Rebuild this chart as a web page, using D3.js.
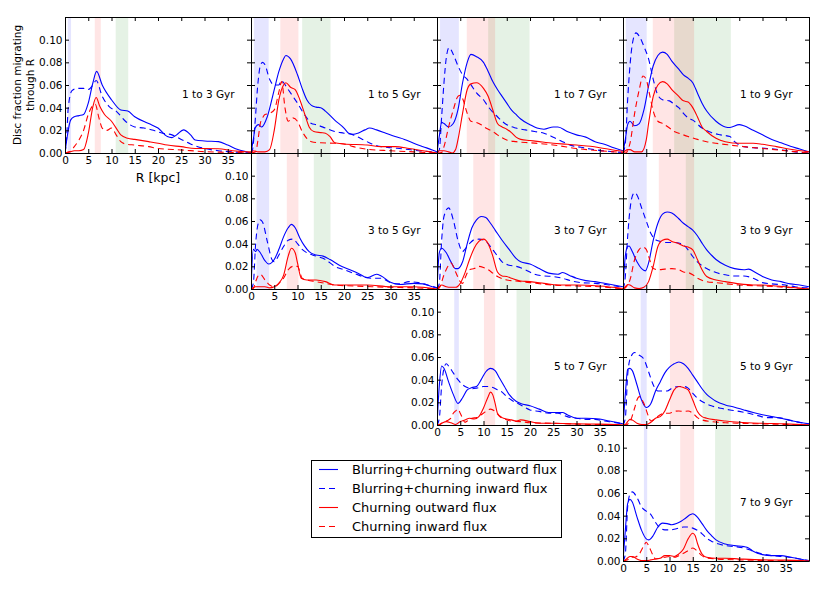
<!DOCTYPE html>
<html><head><meta charset="utf-8">
<script src="https://cdn.jsdelivr.net/npm/d3@7"></script>
<style>body{margin:0;background:#fff;} svg{display:block;font-family:"DejaVu Sans",sans-serif;}</style>
</head><body><svg id="chart" width="817" height="591"></svg>
<script>
// ---------------- DATA: [R (kpc), fraction] ----------------
const bcOut_1_3 = [[0,0],[0.5,0.015],[1.2,0.029],[2,0.032],[3,0.033],[4,0.034],[5,0.044],[6,0.062],[6.8,0.072],[8,0.06],[10,0.047],[12,0.038],[13.5,0.037],[15,0.032],[18,0.026],[20,0.022],[22,0.0145],[23,0.0136],[24,0.016],[25.5,0.0204],[27,0.016],[28,0.0115],[30,0.0106],[33,0.010],[35,0.007],[37,0.0033],[39,0.001],[40,0]];
const bcIn_1_3 = [[0,0],[0.3,0.01],[0.7,0.04],[1.5,0.055],[2.5,0.057],[4,0.057],[5,0.056],[6,0.06],[6.7,0.064],[8,0.05],[9.5,0.041],[11,0.037],[13,0.028],[15,0.023],[17,0.022],[19,0.02],[21,0.0175],[23,0.016],[25,0.012],[27,0.008],[30,0.004],[33,0.002],[36,0.001],[40,0]];
const cOut_1_3 = [[0,0],[1,0.001],[2,0.002],[3,0.002],[4,0.003],[5,0.017],[6,0.041],[6.7,0.049],[7.5,0.041],[8.5,0.034],[10,0.028],[11,0.022],[12,0.016],[13.5,0.013],[15,0.012],[18,0.01],[20,0.0086],[22,0.007],[25,0.0056],[28,0.004],[30,0.004],[33,0.0038],[36,0.002],[40,0.001]];
const cIn_1_3 = [[0,0],[1,0.001],[2,0.0056],[3,0.0115],[4,0.02],[5,0.034],[6,0.042],[6.5,0.043],[7.3,0.031],[8,0.022],[9,0.02],[10,0.022],[11,0.016],[12,0.01],[13,0.008],[15,0.007],[18,0.0056],[20,0.004],[25,0.0027],[30,0.0012],[35,0.0006],[40,0]];

const bcOut_1_5 = [[0,0],[0.5,0.012],[0.9,0.022],[1.6,0.025],[2.3,0.023],[3.5,0.032],[5,0.056],[6,0.072],[7,0.083],[7.5,0.086],[8.5,0.083],[10,0.069],[11,0.057],[12,0.047],[13,0.042],[14,0.0405],[15,0.04],[16,0.037],[18,0.029],[20,0.022],[21,0.0175],[22,0.0166],[23,0.0175],[24.5,0.0204],[25.5,0.022],[27,0.0204],[29,0.0175],[31,0.0145],[33,0.012],[35,0.0086],[37,0.0056],[39,0.0027],[40,0.001]];
const bcIn_1_5 = [[0,0],[0.3,0.002],[0.8,0.023],[1.5,0.062],[2,0.077],[2.5,0.08],[3,0.078],[4,0.065],[5,0.06],[6,0.06],[6.5,0.064],[7,0.062],[8,0.056],[9,0.05],[10,0.044],[11,0.037],[12,0.031],[13,0.026],[14,0.025],[16,0.022],[18,0.019],[20,0.0175],[22,0.016],[24,0.012],[26,0.008],[28,0.0056],[30,0.0047],[33,0.0035],[36,0.002],[39,0.001],[40,0]];
const cOut_1_5 = [[0,0],[0.5,0.002],[1.5,0.001],[3,0.001],[4,0.003],[5,0.02],[6,0.047],[7,0.06],[7.5,0.062],[8.5,0.058],[9.5,0.056],[10.5,0.047],[11.5,0.035],[12.5,0.023],[13.5,0.019],[15,0.018],[16,0.0175],[17,0.0145],[18,0.009],[20,0.008],[25,0.007],[28,0.0056],[31,0.0056],[34,0.004],[37,0.002],[40,0]];
const cIn_1_5 = [[0,0],[1,0.001],[1.5,0.0115],[2,0.026],[2.5,0.031],[3,0.034],[4,0.035],[5,0.038],[6,0.054],[6.6,0.063],[7.3,0.04],[8,0.028],[9,0.031],[10,0.028],[11,0.019],[12,0.013],[13,0.01],[15,0.009],[18,0.0086],[20,0.008],[22,0.0056],[25,0.0033],[30,0.002],[35,0.001],[40,0]];

const bcOut_1_7 = [[0,0],[0.5,0.015],[1,0.027],[1.5,0.026],[2.5,0.023],[3.5,0.026],[4.5,0.038],[5.5,0.062],[6.5,0.08],[7.3,0.087],[8.5,0.085],[10,0.08],[11,0.072],[12,0.063],[13,0.056],[14,0.05],[15,0.044],[16,0.038],[17,0.034],[18,0.03],[20,0.025],[21.5,0.022],[23,0.021],[25,0.023],[26,0.023],[28,0.019],[30,0.016],[32,0.014],[34,0.01],[36,0.0077],[38,0.0047],[40,0.002]];
const bcIn_1_7 = [[0,0],[0.5,0.003],[1,0.032],[1.5,0.062],[2,0.084],[2.6,0.093],[3.5,0.087],[4.5,0.077],[5.5,0.069],[6.5,0.065],[7.5,0.059],[8.5,0.053],[10,0.047],[11,0.041],[12,0.036],[13,0.032],[14,0.028],[15,0.025],[17,0.022],[19,0.0204],[21,0.019],[23,0.0175],[25,0.014],[27,0.01],[29,0.0065],[31,0.005],[33,0.0035],[36,0.0018],[40,0.0005]];
const cOut_1_7 = [[0,0],[0.5,0.002],[1.5,0.002],[2.5,0.001],[3.3,0],[4,0.003],[4.5,0.0115],[5.5,0.035],[6.5,0.056],[7.3,0.061],[8.5,0.062],[10,0.057],[11,0.05],[12,0.038],[13,0.026],[14,0.023],[15,0.021],[16,0.018],[17,0.014],[18,0.012],[20,0.011],[22,0.01],[25,0.0086],[28,0.0077],[30,0.007],[33,0.006],[36,0.004],[39,0.002],[40,0.0015]];
const cIn_1_7 = [[0,0],[1,0.0005],[1.5,0.0056],[2.5,0.023],[3.5,0.038],[4.5,0.05],[5,0.051],[5.5,0.048],[6.5,0.035],[7.3,0.028],[8.5,0.027],[9.5,0.025],[10.5,0.022],[12,0.019],[13,0.016],[15,0.0115],[17,0.01],[20,0.009],[23,0.008],[26,0.0065],[30,0.004],[35,0.002],[40,0.0005]];

const bcOut_1_9 = [[0,0],[0.5,0.012],[1,0.025],[1.5,0.028],[2.5,0.024],[3.5,0.026],[4.5,0.038],[5.5,0.059],[6.5,0.077],[7.5,0.086],[8.5,0.089],[9.5,0.087],[10.5,0.081],[12,0.074],[13,0.069],[14,0.066],[15,0.062],[16,0.053],[17,0.044],[18,0.037],[20,0.028],[22,0.023],[23,0.0225],[25,0.025],[26,0.024],[28,0.02],[30,0.016],[32,0.012],[34,0.009],[36,0.006],[38,0.0035],[40,0.001]];
const bcIn_1_9 = [[0,0],[0.5,0.0086],[1,0.047],[1.5,0.077],[2,0.096],[2.8,0.106],[3.5,0.103],[4.5,0.094],[5.5,0.083],[6.5,0.065],[7.5,0.051],[8.5,0.047],[10,0.046],[11,0.043],[12,0.04],[13,0.035],[14,0.031],[15,0.029],[17,0.022],[19,0.018],[21,0.016],[23,0.0145],[24,0.01],[26,0.0056],[28,0.0047],[31,0.004],[34,0.0027],[37,0.001],[40,0]];
const cOut_1_9 = [[0,0],[0.5,0.002],[1,0.003],[1.5,0.003],[2.5,0.001],[3.5,0.001],[4,0.001],[5,0.0115],[5.5,0.026],[6.5,0.05],[7.5,0.06],[8.5,0.063],[9.5,0.061],[10.5,0.056],[12,0.05],[13,0.046],[14,0.045],[15,0.04],[16,0.032],[17,0.023],[18,0.019],[20,0.013],[22,0.01],[25,0.0086],[28,0.0086],[30,0.0077],[33,0.0056],[36,0.0033],[40,0.001]];
const cIn_1_9 = [[0,0],[0.5,0],[1.5,0.0086],[2.5,0.035],[3.5,0.056],[4.3,0.068],[5,0.065],[5.5,0.056],[6.5,0.037],[7.5,0.028],[8.5,0.026],[10,0.022],[11,0.019],[12,0.0175],[14,0.0145],[16,0.012],[18,0.01],[20,0.0086],[23,0.007],[26,0.0056],[30,0.004],[35,0.002],[40,0]];

const bcOut_3_5 = [[0,0],[0.5,0.035],[1,0.033],[1.3,0.035],[2,0.032],[3,0.025],[3.8,0.022],[5,0.026],[6,0.035],[7,0.046],[8,0.054],[8.7,0.057],[9.5,0.054],[10.5,0.045],[11.5,0.038],[12.5,0.033],[14,0.03],[15.5,0.029],[17,0.026],[19,0.021],[21,0.0175],[23,0.014],[25,0.01],[27,0.013],[28,0.0115],[30,0.006],[32,0.004],[35,0.005],[37,0.0045],[39,0.002],[40,0.001]];
const bcIn_3_5 = [[0,0],[0.5,0.005],[1,0.04],[1.5,0.057],[2,0.061],[2.5,0.059],[3.5,0.042],[4.5,0.026],[5,0.024],[6,0.03],[7,0.0375],[8,0.043],[9,0.044],[10,0.04],[11,0.035],[12,0.032],[14,0.029],[16,0.026],[18,0.02],[20,0.017],[22,0.014],[24,0.011],[26,0.0095],[28,0.0095],[30,0.0056],[32,0.0045],[34,0.0065],[36,0.0056],[38,0.0035],[40,0.001]];
const cOut_3_5 = [[0,0],[1,0.002],[2,0.002],[3,0.002],[4,0.001],[5,0.002],[6,0.005],[7,0.012],[8,0.029],[8.7,0.036],[9.5,0.032],[10,0.023],[10.8,0.0095],[12,0.008],[14,0.008],[16,0.0065],[18,0.0035],[20,0.0035],[25,0.0035],[30,0.002],[35,0.002],[40,0]];
const cIn_3_5 = [[0,0],[0.5,0.0005],[1,0.0065],[1.5,0.0115],[2,0.013],[3,0.008],[4,0.0035],[5,0.002],[6,0.005],[7,0.0095],[8,0.017],[9,0.02],[10,0.02],[11,0.0095],[12,0.008],[14,0.0065],[16,0.005],[18,0.0035],[22,0.0027],[26,0.002],[30,0.0015],[35,0.001],[40,0]];

const bcOut_3_7 = [[0,0],[0.5,0.032],[1,0.036],[2,0.032],[3,0.024],[4,0.018],[4.5,0.018],[5.5,0.024],[6.5,0.04],[7.5,0.054],[8.5,0.061],[9.5,0.064],[10.5,0.063],[11.5,0.058],[12.5,0.052],[14,0.043],[15.5,0.035],[17,0.027],[18,0.024],[20,0.022],[22,0.018],[24,0.014],[26,0.013],[27,0.0145],[28.5,0.012],[30,0.0095],[32,0.0074],[34,0.0065],[36,0.005],[38,0.0035],[40,0.002]];
const bcIn_3_7 = [[0,0],[0.5,0.005],[1,0.043],[1.5,0.064],[2.5,0.0716],[3.5,0.061],[4.5,0.043],[5.5,0.033],[6,0.035],[7,0.04],[8,0.0435],[9,0.044],[10.5,0.042],[11.5,0.0375],[12.5,0.032],[14,0.024],[15.5,0.021],[17,0.02],[19,0.017],[21,0.013],[23,0.0115],[25,0.011],[27,0.0095],[29,0.007],[31,0.0056],[34,0.005],[37,0.0035],[40,0.0015]];
const cOut_3_7 = [[0,0],[0.5,0.002],[1,0.0035],[2,0.002],[3,0.0015],[4,0.0015],[5,0.005],[6,0.014],[7,0.026],[8,0.036],[9,0.042],[10,0.044],[11,0.04],[12,0.029],[13,0.015],[14,0.0115],[15,0.011],[16,0.0095],[18,0.007],[20,0.0065],[23,0.005],[26,0.0035],[30,0.0035],[35,0.0027],[40,0.0005]];
const cIn_3_7 = [[0,0],[0.5,0.001],[1.5,0.0125],[2.5,0.021],[3,0.023],[4,0.015],[5,0.0065],[5.5,0.005],[6,0.0095],[7,0.017],[8,0.018],[9,0.02],[10,0.019],[11,0.017],[12,0.014],[13,0.011],[15,0.008],[17,0.007],[20,0.0056],[25,0.0035],[30,0.0027],[35,0.002],[40,0]];

const bcOut_3_9 = [[0,0],[0.5,0.029],[1,0.0375],[1.3,0.038],[2,0.033],[3,0.024],[4,0.018],[4.8,0.016],[5.5,0.023],[6.5,0.043],[7.5,0.058],[8.5,0.066],[9.5,0.068],[10.5,0.067],[12,0.062],[13,0.058],[14,0.055],[15,0.052],[16,0.047],[17,0.0405],[18,0.0346],[19,0.03],[20,0.026],[22,0.021],[24,0.018],[26,0.017],[27,0.0175],[28.5,0.0145],[30,0.011],[32,0.008],[34,0.0065],[36,0.0045],[38,0.0035],[40,0.002]];
const bcIn_3_9 = [[0,0],[0.5,0.011],[1,0.046],[1.5,0.07],[2,0.082],[2.5,0.085],[3,0.083],[4,0.0716],[5,0.06],[6,0.049],[7,0.0435],[8,0.042],[9,0.041],[10,0.041],[11,0.041],[12,0.0405],[13,0.039],[14,0.0346],[15,0.0287],[16,0.024],[18,0.018],[20,0.0145],[22,0.0125],[24,0.0115],[26,0.0115],[28,0.0095],[30,0.0056],[32,0.0045],[35,0.0035],[37,0.002],[40,0.001]];
const cOut_3_9 = [[0,0],[0.5,0.002],[1,0.004],[1.5,0.0035],[2.5,0.001],[3.5,0.0005],[4.5,0.0015],[5.5,0.0065],[6.5,0.02],[7.5,0.0375],[8.5,0.043],[9.5,0.044],[10.5,0.042],[12,0.04],[13,0.038],[14,0.037],[15,0.0346],[16,0.026],[17,0.017],[18,0.011],[20,0.008],[22,0.0065],[25,0.0045],[28,0.0035],[30,0.0035],[33,0.0027],[36,0.0015],[40,0]];
const cIn_3_9 = [[0,0],[0.5,0.001],[1.5,0.008],[2.5,0.026],[3.5,0.035],[4.2,0.037],[5,0.035],[5.5,0.029],[6.5,0.018],[7.5,0.017],[9,0.0175],[10.5,0.018],[12,0.017],[13,0.015],[14,0.0145],[15,0.0125],[16,0.0095],[18,0.0065],[20,0.0056],[25,0.0035],[30,0.0027],[35,0.0015],[40,0]];

const bcOut_5_7 = [[0,0],[0.5,0.035],[1,0.052],[1.5,0.05],[2.5,0.038],[3.5,0.027],[4.5,0.019],[5.5,0.024],[6.5,0.031],[7.5,0.033],[8.5,0.034],[9.5,0.04],[10.5,0.047],[11.5,0.05],[12.5,0.048],[13.5,0.041],[14.5,0.034],[15.5,0.027],[17,0.021],[18,0.019],[20,0.017],[22,0.014],[24,0.011],[26,0.011],[27,0.011],[28,0.009],[30,0.006],[32,0.006],[35,0.0053],[37,0.0035],[39,0.002],[40,0.001]];
const bcIn_5_7 = [[0,0],[0.5,0.006],[1,0.035],[1.5,0.05],[2,0.054],[2.5,0.052],[3.5,0.046],[4.5,0.04],[5.5,0.0355],[6.5,0.033],[7.5,0.032],[8.5,0.0325],[10,0.034],[11,0.034],[12,0.033],[13,0.031],[14,0.029],[15,0.025],[16,0.022],[18,0.0177],[20,0.0133],[22,0.012],[24,0.0104],[26,0.0104],[28,0.0074],[30,0.006],[32,0.005],[34,0.005],[36,0.0035],[38,0.0024],[40,0.001]];
const cOut_5_7 = [[0,0],[0.5,0.0005],[1,0.0015],[2,0.003],[3,0.002],[4,0.0005],[5,0.003],[6,0.0045],[7,0.006],[8,0.0053],[9,0.0074],[10,0.015],[11,0.025],[11.5,0.029],[12,0.0266],[12.5,0.019],[13,0.0104],[14,0.0065],[15,0.0053],[16,0.0045],[17,0.0035],[18,0.0045],[20,0.003],[22,0.0015],[25,0.0015],[30,0.001],[35,0.0008],[40,0]];
const cIn_5_7 = [[0,0],[0.5,0],[1,0.0015],[2,0.0035],[3,0.006],[3.5,0.0104],[4,0.0124],[4.5,0.014],[5,0.0104],[5.5,0.006],[6,0.0024],[6.5,0.0035],[7.5,0.006],[8.5,0.0065],[9.5,0.009],[10.5,0.012],[11.5,0.014],[12.5,0.012],[13.5,0.0074],[14.5,0.0053],[16,0.0035],[18,0.003],[20,0.002],[25,0.0015],[30,0.0008],[40,0]];

const bcOut_5_9 = [[0,0],[0.5,0.027],[1,0.049],[1.5,0.05],[2,0.048],[3,0.0355],[4,0.022],[5,0.0154],[6,0.019],[7,0.03],[8,0.038],[9,0.046],[10,0.051],[11,0.054],[12,0.0556],[13,0.054],[14,0.05],[15,0.044],[16,0.038],[17,0.032],[18,0.027],[19,0.0237],[20,0.021],[22,0.0177],[24,0.0157],[26,0.0133],[28,0.011],[30,0.009],[32,0.0074],[34,0.006],[36,0.004],[38,0.0024],[40,0.001]];
const bcIn_5_9 = [[0,0],[0.5,0.006],[1,0.044],[1.5,0.058],[2.5,0.064],[3.5,0.0615],[4.5,0.058],[5.5,0.047],[6.5,0.0355],[7.5,0.03],[8.5,0.03],[9.5,0.03],[10.5,0.0325],[12,0.034],[13,0.034],[14,0.0325],[15,0.028],[16,0.0237],[17,0.0207],[19,0.017],[21,0.0148],[23,0.0133],[25,0.012],[27,0.0104],[29,0.0083],[31,0.0065],[33,0.0065],[35,0.0053],[37,0.003],[40,0.001]];
const cOut_5_9 = [[0,0],[0.5,0.0005],[1,0.003],[1.5,0.005],[2,0.0045],[3,0.0015],[4,0.0005],[5,0.0005],[6,0.0024],[7,0.006],[8,0.0074],[9,0.0124],[10,0.022],[11,0.031],[12,0.034],[13,0.033],[14,0.031],[15,0.022],[16,0.012],[17,0.0074],[18,0.006],[20,0.0045],[22,0.0035],[25,0.0024],[30,0.0015],[35,0.001],[40,0]];
const cIn_5_9 = [[0,0],[0.5,0],[1.5,0.003],[2.5,0.015],[3,0.022],[3.5,0.025],[4.5,0.019],[5.5,0.0074],[6,0.0035],[7,0.006],[8,0.009],[9,0.0104],[10,0.0104],[11,0.012],[12,0.0124],[13,0.012],[14,0.0124],[15,0.0104],[16,0.0065],[17,0.0045],[19,0.003],[22,0.002],[25,0.0015],[30,0.001],[40,0]];

const bcOut_7_9 = [[0,0],[0.5,0.027],[1,0.0506],[1.5,0.0544],[2,0.052],[3,0.039],[4,0.027],[5,0.0195],[5.5,0.0186],[6.5,0.0225],[7.5,0.03],[8.5,0.0334],[9.5,0.033],[10.5,0.032],[11.5,0.033],[12.5,0.035],[13.5,0.038],[14.5,0.041],[15,0.0417],[16,0.0387],[17,0.033],[18,0.027],[19,0.0225],[20,0.0186],[22,0.015],[24,0.0136],[26,0.0127],[27,0.0115],[28,0.0086],[30,0.0056],[32,0.0047],[34,0.0047],[36,0.0033],[38,0.0018],[40,0]];
const bcIn_7_9 = [[0,0],[0.5,0.006],[1,0.0476],[1.5,0.059],[2,0.061],[3,0.056],[4,0.0476],[5,0.044],[6,0.041],[7,0.034],[8,0.029],[9,0.0275],[10,0.0275],[11,0.028],[12,0.029],[13,0.03],[14,0.03],[15,0.029],[16,0.027],[17,0.024],[18,0.02],[19,0.0175],[20,0.0157],[22,0.0136],[24,0.0127],[26,0.0115],[28,0.0086],[30,0.0062],[32,0.0047],[34,0.004],[36,0.0033],[38,0.0018],[40,0.0005]];
const cOut_7_9 = [[0,0],[0.5,0.001],[1,0.0027],[1.5,0.004],[2,0.004],[3,0.0018],[4,0.0003],[5,0.0003],[6,0.001],[7,0.0018],[8,0.0024],[9,0.0047],[10,0.0047],[11,0.004],[12,0.0062],[13,0.0106],[14,0.0195],[15,0.0245],[15.5,0.0225],[16,0.0157],[17,0.0062],[18,0.0033],[20,0.0024],[22,0.0024],[25,0.0018],[30,0.001],[35,0.0008],[40,0]];
const cIn_7_9 = [[0,0],[0.5,0.0005],[1,0.001],[1.5,0.0033],[2.5,0.0033],[3.5,0.0062],[4.5,0.0136],[5,0.0166],[5.5,0.0136],[6.5,0.0047],[7,0.0018],[8,0.0024],[9,0.0033],[10,0.004],[11,0.0033],[12,0.0047],[13,0.0068],[14,0.0092],[15,0.0115],[16,0.0086],[17,0.0047],[18,0.0027],[20,0.0018],[25,0.001],[30,0.0005],[40,0]];

// panel layout (row, column in the triangular grid) and labels
const panelLabels = ["1 to 3 Gyr","1 to 5 Gyr","1 to 7 Gyr","1 to 9 Gyr","3 to 5 Gyr","3 to 7 Gyr","3 to 9 Gyr","5 to 7 Gyr","5 to 9 Gyr","7 to 9 Gyr"];
const panelRows = [0,0,0,0,1,1,1,2,2,3];
const panelCols = [0,1,2,3,1,2,3,2,3,3];
// shaded radial bands [Rmin, Rmax] per panel
const blueBands  = [[0.6,1.3],[0.65,3.8],[0.65,4.7],[0.6,5.1],[1.2,3.9],[1.15,4.7],[1.15,5.1],[3.7,4.7],[3.8,5.1],[4.5,5.2]];
const redBands   = [[6.4,7.7],[6.3,10.2],[6.4,12.5],[6.4,15.3],[7.7,10.2],[7.8,12.4],[7.7,15.3],[10.1,12.5],[10.1,15.3],[12.3,15.3]];
const greenBands = [[10.9,13.6],[11,17.1],[11,19.9],[11,23.2],[13.5,17.1],[13.5,19.9],[13.5,23.2],[17.1,20],[17.1,23.2],[19.8,23.2]];

const xTickValues = [0,5,10,15,20,25,30,35,40];
const xTickLabels = [0,5,10,15,20,25,30,35];
const yTickValues = [0,0.02,0.04,0.06,0.08,0.10,0.12];
const yTickLabels = [0,0.02,0.04,0.06,0.08,0.10];
const seriesNames = ["Blurring+churning outward flux","Blurring+churning inward flux","Churning outward flux","Churning inward flux"];
const seriesColors = ["#0000ff","#0000ff","#ff0000","#ff0000"];
const seriesDashed = [false,true,false,true];

const seriesByPanel = [
  [bcOut_1_3,bcIn_1_3,cOut_1_3,cIn_1_3],
  [bcOut_1_5,bcIn_1_5,cOut_1_5,cIn_1_5],
  [bcOut_1_7,bcIn_1_7,cOut_1_7,cIn_1_7],
  [bcOut_1_9,bcIn_1_9,cOut_1_9,cIn_1_9],
  [bcOut_3_5,bcIn_3_5,cOut_3_5,cIn_3_5],
  [bcOut_3_7,bcIn_3_7,cOut_3_7,cIn_3_7],
  [bcOut_3_9,bcIn_3_9,cOut_3_9,cIn_3_9],
  [bcOut_5_7,bcIn_5_7,cOut_5_7,cIn_5_7],
  [bcOut_5_9,bcIn_5_9,cOut_5_9,cIn_5_9],
  [bcOut_7_9,bcIn_7_9,cOut_7_9,cIn_7_9]
];

// ---------------- LAYOUT ----------------
const left0 = 65, top0 = 17, pw = 186, ph = 136;
const svg = d3.select("#chart");
const x = d3.scaleLinear().domain([0,40]).range([0,pw]);
const y = d3.scaleLinear().domain([0,0.12]).range([ph,0]);
const line = d3.line().x(d=>x(d[0])).y(d=>y(d[1])).curve(d3.curveMonotoneX);
const FS = 10.5;

svg.append("defs").append("clipPath").attr("id","pclip")
  .append("rect").attr("x",0).attr("y",0).attr("width",pw).attr("height",ph);

panelLabels.forEach((lab,i)=>{
  const r = panelRows[i], c = panelCols[i];
  const g = svg.append("g").attr("transform",`translate(${left0+c*pw},${top0+r*ph})`);
  g.append("rect").attr("width",pw).attr("height",ph).attr("fill","#fff");
  const inner = g.append("g").attr("clip-path","url(#pclip)");
  const bands = [[greenBands[i],"#008000"],[redBands[i],"#ff0000"],[blueBands[i],"#0000ff"]];
  bands.forEach(([b,col])=>{
    inner.append("rect").attr("x",x(b[0])).attr("y",0).attr("width",x(b[1])-x(b[0])).attr("height",ph)
      .attr("fill",col).attr("fill-opacity",0.1);
  });
  seriesByPanel[i].forEach((s,k)=>{
    inner.append("path").datum(s).attr("d",line).attr("fill","none")
      .attr("stroke",seriesColors[k]).attr("stroke-width",1.1)
      .attr("stroke-dasharray",seriesDashed[k]?"6,4":null);
  });
  inner.append("text").attr("x",117).attr("y",80.5).attr("font-size",FS).text(lab);

  const diag = (r===c);
  const axB = d3.axisBottom(x).tickValues(xTickValues).tickSize(-4).tickSizeOuter(0).tickPadding(4)
    .tickFormat(d=> diag && xTickLabels.includes(d) ? d : "");
  const axT = d3.axisTop(x).tickValues(xTickValues).tickSize(-4).tickSizeOuter(0).tickFormat("");
  const axL = d3.axisLeft(y).tickValues(yTickValues).tickSize(-4).tickSizeOuter(0).tickPadding(2.5)
    .tickFormat(d=> diag && yTickLabels.includes(d) ? d3.format(".2f")(d) : "");
  const axR = d3.axisRight(y).tickValues(yTickValues).tickSize(-4).tickSizeOuter(0).tickFormat("");
  const styleAx = sel => {
    sel.selectAll("path.domain").attr("stroke","#000").attr("stroke-width",1);
    sel.selectAll(".tick line").attr("stroke","#000");
    sel.selectAll("text").attr("font-size",FS).attr("font-family","DejaVu Sans").attr("fill","#000");
  };
  g.append("g").attr("transform",`translate(0,${ph})`).call(axB).call(styleAx);
  g.append("g").call(axT).call(styleAx);
  g.append("g").call(axL).call(styleAx);
  g.append("g").attr("transform",`translate(${pw},0)`).call(axR).call(styleAx);
});

// axis titles
svg.append("text").attr("x",left0+pw/2).attr("y",182).attr("text-anchor","middle")
  .attr("font-size",12.5).text("R [kpc]");
const yl = svg.append("text").attr("transform",`translate(21,${top0+ph/2}) rotate(-90)`)
  .attr("text-anchor","middle").attr("font-size",FS);
yl.append("tspan").attr("x",0).attr("dy",0).text("Disc fraction migrating");
yl.append("tspan").attr("x",0).attr("dy",12.5).text("through R");

// legend
const lg = svg.append("g").attr("transform","translate(311,460)");
lg.append("rect").attr("x",0.5).attr("y",0.5).attr("width",250).attr("height",77)
  .attr("fill","#fff").attr("stroke","#000").attr("stroke-width",1);
seriesNames.forEach((nm,k)=>{
  const yy = 9.5 + k*19;
  lg.append("line").attr("x1",8).attr("x2",27).attr("y1",yy).attr("y2",yy)
    .attr("stroke",seriesColors[k]).attr("stroke-width",1.1)
    .attr("stroke-dasharray",seriesDashed[k]?"6,4":null);
  lg.append("text").attr("x",41).attr("y",yy+4.5).attr("font-size",13).text(nm);
});
</script></body></html>
